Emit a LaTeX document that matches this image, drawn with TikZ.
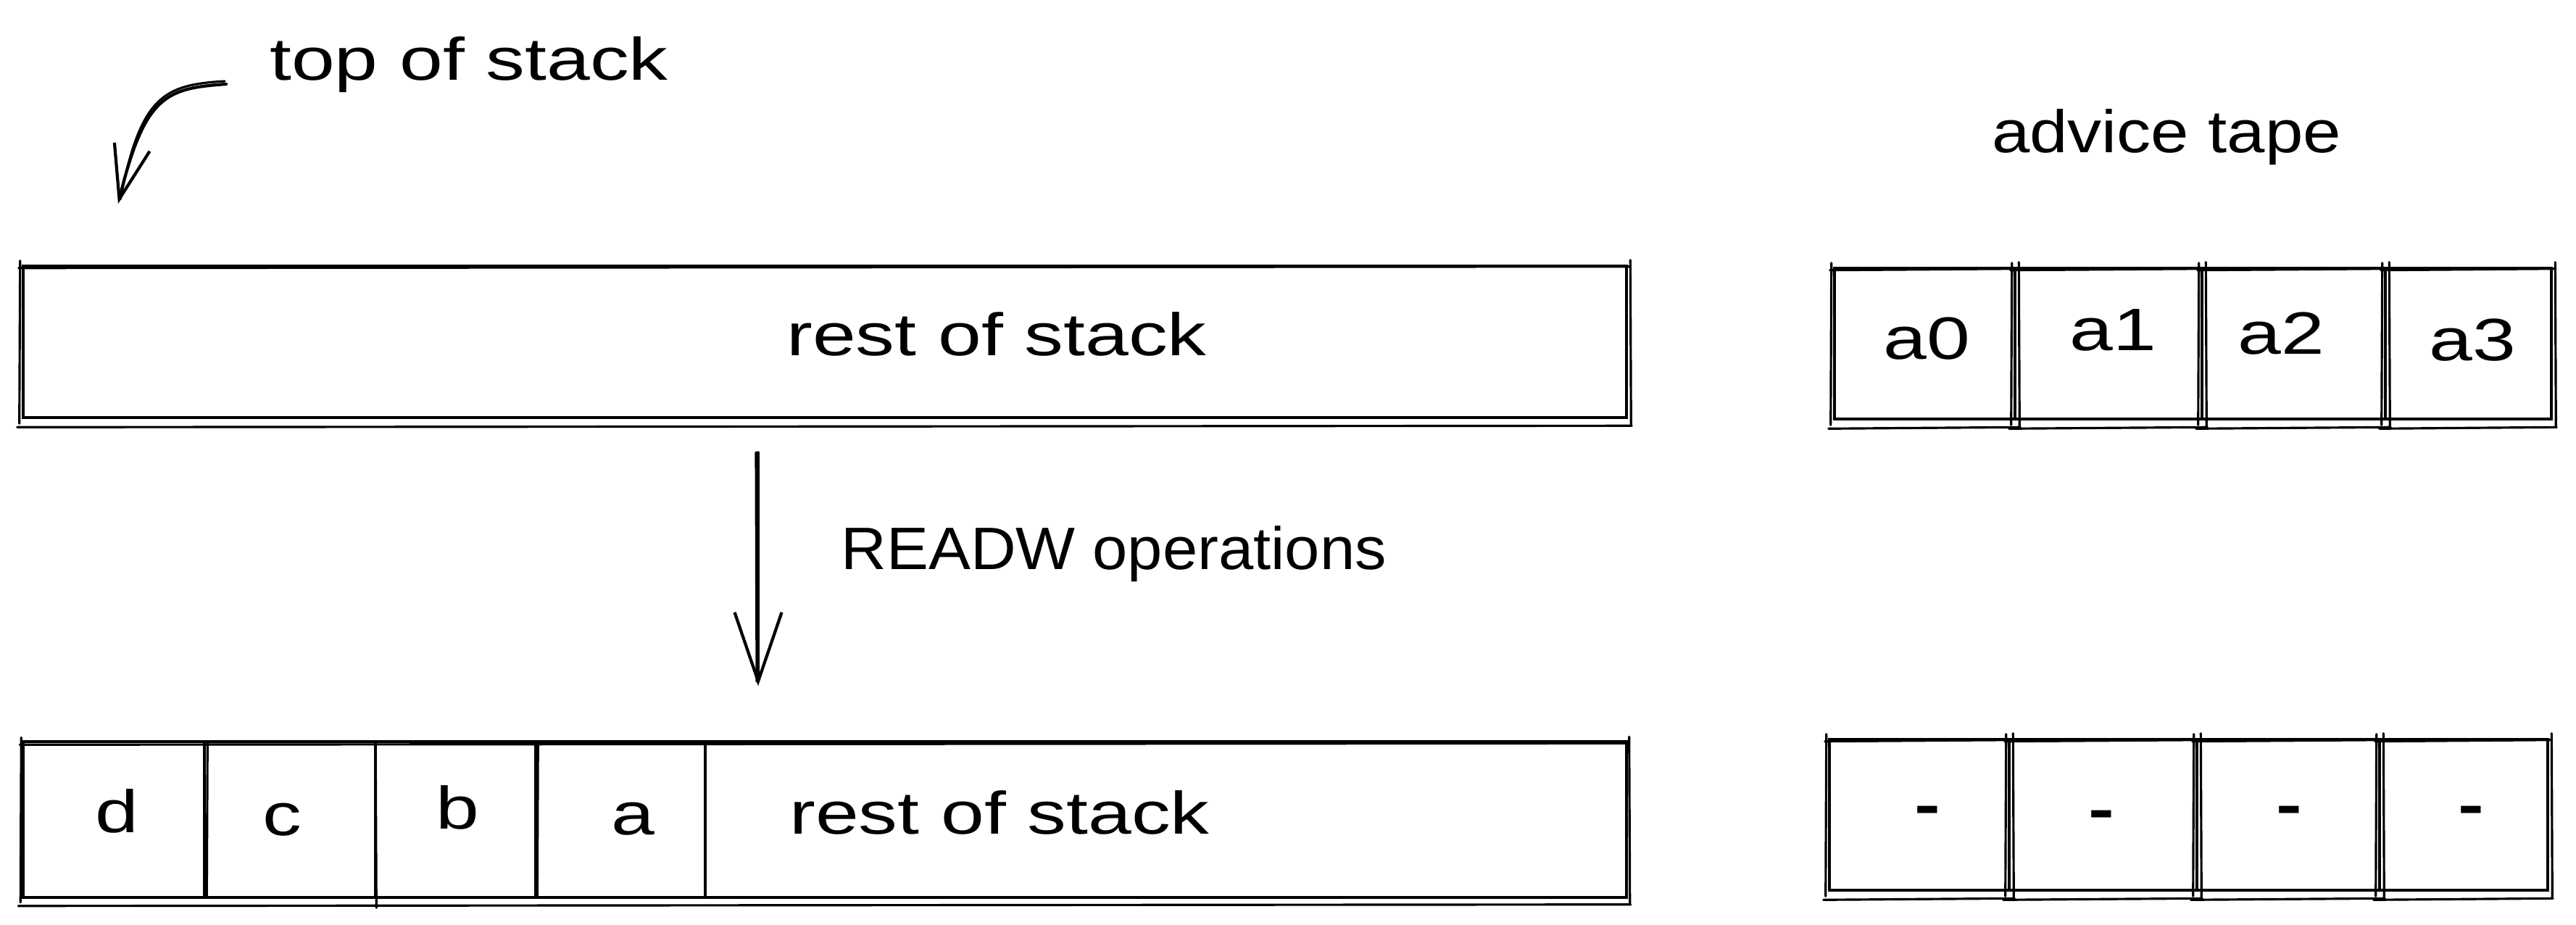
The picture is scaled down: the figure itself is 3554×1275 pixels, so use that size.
\documentclass[tikz,border=0pt]{standalone}
\usepackage{fontspec}
\setmainfont{Liberation Sans}
\newfontfamily\handfont[FakeStretch=1.3]{Liberation Sans}
\newfontfamily\handfontn[FakeStretch=1.14]{Liberation Sans}
\newfontfamily\handfontw[FakeStretch=1.05]{Liberation Sans}
\usetikzlibrary{arrows.meta,fit,calc}
\tikzset{
  cell/.style={draw=black, line width=1.3pt, inner sep=0pt, rectangle},
  skline/.style={draw=black, line width=0.9pt, line cap=round},
  hand/.style={font={\handfont\fontsize{23.5}{28}\selectfont}, inner sep=0pt, anchor=base},
  handn/.style={font={\handfontn\fontsize{23.5}{28}\selectfont}, inner sep=0pt, anchor=base},
  handw/.style={font={\handfontw\fontsize{23.5}{28}\selectfont}, inner sep=0pt, anchor=base west},
  dashtext/.style={font={\handfont\bfseries\fontsize{23.5}{28}\selectfont}, inner sep=0pt, anchor=base},
  arr/.style={line width=1.2pt, line cap=round, -{Straight Barb[length=0.95cm, width=0.65cm]}},
  arrc/.style={line width=1.2pt, line cap=round, -{Straight Barb[length=0.74cm, width=0.5cm]}},
}
\newcommand\skpass[1]{%
  \draw[skline] ([shift={(-4,5)}]#1.north west) -- ([shift={(3,3)}]#1.north east);
  \draw[skline] ([shift={(3,-6)}]#1.north east) -- ([shift={(4,8)}]#1.south east);
  \draw[skline] ([shift={(5,9)}]#1.south east) -- ([shift={(-6,11)}]#1.south west);
  \draw[skline] ([shift={(-3,6)}]#1.south west) -- ([shift={(-2,-5)}]#1.north west);
}
\begin{document}
\begin{tikzpicture}[x=0.01cm, y=-0.01cm]
\fill[white] (0,0) rectangle (3554,1275);
\useasboundingbox (0,0) rectangle (3554,1275);

% top of stack label and arrow
\node[hand] (tos) at (647,110) {top of stack};
\coordinate (tosA) at (312,116);
\coordinate (tosB) at (163,281);
\draw[arrc] (tosA) .. controls (230,122) and (200,130) .. (tosB);
\draw[skline] ([shift={(-2,-4)}]tosA) .. controls (226,117) and (194,132) .. ([shift={(3,-6)}]tosB);

% top stack
\node[cell, fit={(32,367) (2244,576)}] (stack1) {};
\skpass{stack1}
\node[hand] (rest1) at (1375,490) {rest of stack};

% advice tape (top)
\node[handn] (advice) at (2989,210) {advice tape};
\node[cell, fit={(2531,370) (2780,578)}] (t0) {};
\node[cell, fit={(2780,370) (3038,578)}] (t1) {};
\node[cell, fit={(3038,370) (3291,578)}] (t2) {};
\node[cell, fit={(3291,370) (3520,578)}] (t3) {};
\skpass{t0}\skpass{t1}\skpass{t2}\skpass{t3}
\node[hand] (ta0) at (2658,495) {a0};
\node[hand] (ta1) at (2915,483) {a1};
\node[hand] (ta2) at (3147,488) {a2};
\node[hand] (ta3) at (3411,497) {a3};

% bottom stack
\node[cell, fit={(32,1023) (282,1238)}] (s0) {};
\node[cell, fit={(282,1023) (518,1238)}] (s1) {};
\node[cell, fit={(518,1023) (739,1238)}] (s2) {};
\node[cell, fit={(739,1023) (973,1238)}] (s3) {};
\node[cell, fit={(973,1023) (2244,1238)}] (stack2rest) {};
\node[inner sep=0pt, fit={(32,1023) (2244,1238)}] (stack2) {};
\skpass{stack2}
\draw[skline] ([shift={(2,4)}]s0.north east) -- ([shift={(1,-3)}]s0.south east);
\draw[skline] ([shift={(-2,30)}]s1.north east) -- ([shift={(-1,12)}]s1.south east);
\draw[skline] ([shift={(1,2)}]s2.north east) -- ([shift={(0,-4)}]s2.south east);
\node[hand] (ld) at (161,1148) {d};
\node[hand] (lc) at (389,1152) {c};
\node[hand] (lb) at (631,1143) {b};
\node[hand] (la) at (873,1151) {a};
\node[hand] (rest2) at (1379,1150) {rest of stack};

% advice tape (bottom)
\node[cell, fit={(2524,1020) (2772,1228)}] (b0) {};
\node[cell, fit={(2772,1020) (3031,1228)}] (b1) {};
\node[cell, fit={(3031,1020) (3283,1228)}] (b2) {};
\node[cell, fit={(3283,1020) (3515,1228)}] (b3) {};
\skpass{b0}\skpass{b1}\skpass{b2}\skpass{b3}
\node[dashtext] (d0) at (2659,1138) {-};
\node[dashtext] (d1) at (2899,1144) {-};
\node[dashtext] (d2) at (3158,1138) {-};
\node[dashtext] (d3) at (3409,1138) {-};

% READW arrow
\coordinate (arrx) at (1046,0);
\draw[arr, shorten <=0.46cm, shorten >=0.76cm] (stack1.south -| arrx) -- (stack2.north -| arrx);
\draw[skline] (1043,624) -- (1044,940);
\node[handw] (readw) at (1160,785) {READW operations};
\end{tikzpicture}
\end{document}
